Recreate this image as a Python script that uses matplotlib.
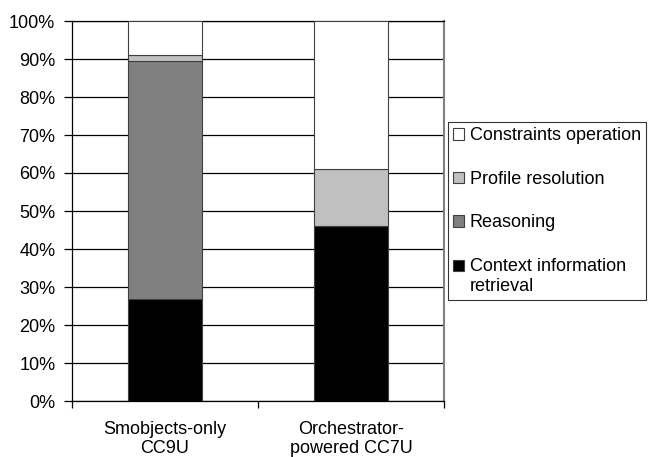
import matplotlib.pyplot as plt
import numpy as np

plt.rcParams["font.family"] = ["Liberation Sans", "DejaVu Sans"]

categories = ["Smobjects-only\nCC9U", "Orchestrator-\npowered CC7U"]
series = ["Context information\nretrieval", "Reasoning", "Profile resolution", "Constraints operation"]
context = [26.8, 46.0]
reasoning = [62.7, 0.0]
profile = [1.5, 15.0]
constraints = [9.0, 39.0]
colors = ["#000000", "#808080", "#c0c0c0", "#ffffff"]
fs = 13

fig = plt.figure(figsize=(6.5, 4.57), dpi=100)
ax = fig.add_axes([72 / 650, 1 - 401 / 457, (444 - 72) / 650, 380 / 457])

x = np.arange(len(categories))
bottom = np.zeros(len(categories))
handles = []
for vals, col, name in zip([context, reasoning, profile, constraints], colors, series):
    vals = np.array(vals)
    b = ax.bar(x, vals, width=0.4, bottom=bottom, color=col, edgecolor="#404040",
               linewidth=0.8, label=name, zorder=3)
    handles.append(b)
    bottom += vals

ax.set_xlim(-0.5, 1.5)
ax.set_ylim(0, 100)
ax.set_yticks(np.arange(0, 101, 10))
ax.set_yticklabels([f"{v}%" for v in range(0, 101, 10)], fontsize=fs)
ax.yaxis.grid(True, color="black", linewidth=0.9, zorder=0)
ax.tick_params(axis="y", length=6, width=0.9, pad=6)

# category labels between boundary ticks
ax.set_xticks([-0.5, 0.5, 1.5])
ax.set_xticklabels([])
ax.tick_params(axis="x", length=5, width=0.9)
for xi, lab in zip(x, categories):
    ax.text(xi, -5.3, lab, ha="center", va="top", fontsize=fs, linespacing=1.15)

ax.spines["right"].set_color("#808080")
ax.spines["right"].set_linewidth(1.5)
for side in ["left", "bottom", "top"]:
    ax.spines[side].set_linewidth(0.9)

leg = ax.legend(handles[::-1], [h.get_label() for h in handles[::-1]],
                loc="upper left", bbox_to_anchor=(448 / 650, 1 - 122 / 457),
                bbox_transform=fig.transFigure, frameon=True, fancybox=False,
                edgecolor="black", fontsize=fs, handlelength=0.6, handleheight=0.6,
                handletextpad=0.3, labelspacing=1.47, borderpad=0.3,
                borderaxespad=0)
leg.get_frame().set_linewidth(0.8)
# put the two-line entry's swatch next to its first line
ctx = leg.legend_handles[-1]
ctx.set_y(ctx.get_y() + fs * 0.6)

fig.savefig("out.png", dpi=100)
